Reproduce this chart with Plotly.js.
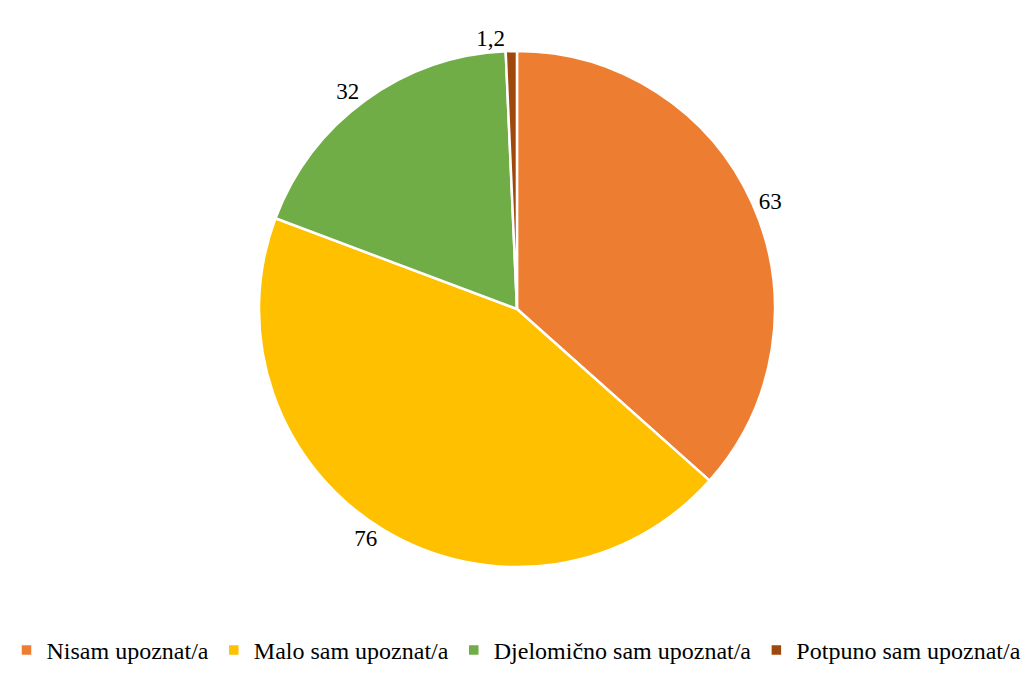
<!DOCTYPE html>
<html>
<head>
<meta charset="utf-8">
<script src="https://cdn.plot.ly/plotly-3.0.1.min.js"></script>
<style>html,body{margin:0;padding:0;background:#fff;}#chart{width:1033px;height:673px;}</style>
</head>
<body>
<div id="chart"></div>
<script>
const categories = ['Nisam upoznat/a', 'Malo sam upoznat/a', 'Djelomično sam upoznat/a', 'Potpuno sam upoznat/a'];
const values = [63, 76, 32, 1.2];
const valueLabels = ['63', '76', '32', '1,2'];
const colors = ['#ED7D31', '#FFC000', '#70AD47', '#9E480E'];

const serif = "'Liberation Serif', 'Times New Roman', Times, serif";

const trace = {
  type: 'pie',
  labels: categories,
  values: values,
  text: valueLabels,
  textinfo: 'text',
  textposition: 'outside',
  sort: false,
  direction: 'clockwise',
  rotation: 0,
  marker: {colors: colors, line: {color: '#ffffff', width: 2.5}},
  textfont: {family: serif, size: 23, color: '#000'},
  domain: {x: [0.2507, 0.7502], y: [0.1575, 0.9242]},
  hoverinfo: 'label+value',
  showlegend: true
};

const layout = {
  width: 1033, height: 673,
  margin: {l: 0, r: 0, t: 0, b: 0},
  paper_bgcolor: '#fff',
  font: {family: serif, size: 23, color: '#000'},
  showlegend: true,
  legend: {
    orientation: 'h', x: 0.5, xanchor: 'center', y: 0, yanchor: 'bottom',
    font: {family: serif, size: 24, color: '#000'},
    itemwidth: 30, tracegroupgap: 0
  }
};

Plotly.newPlot('chart', [trace], layout, {displayModeBar: false, staticPlot: true});
</script>
</body>
</html>
